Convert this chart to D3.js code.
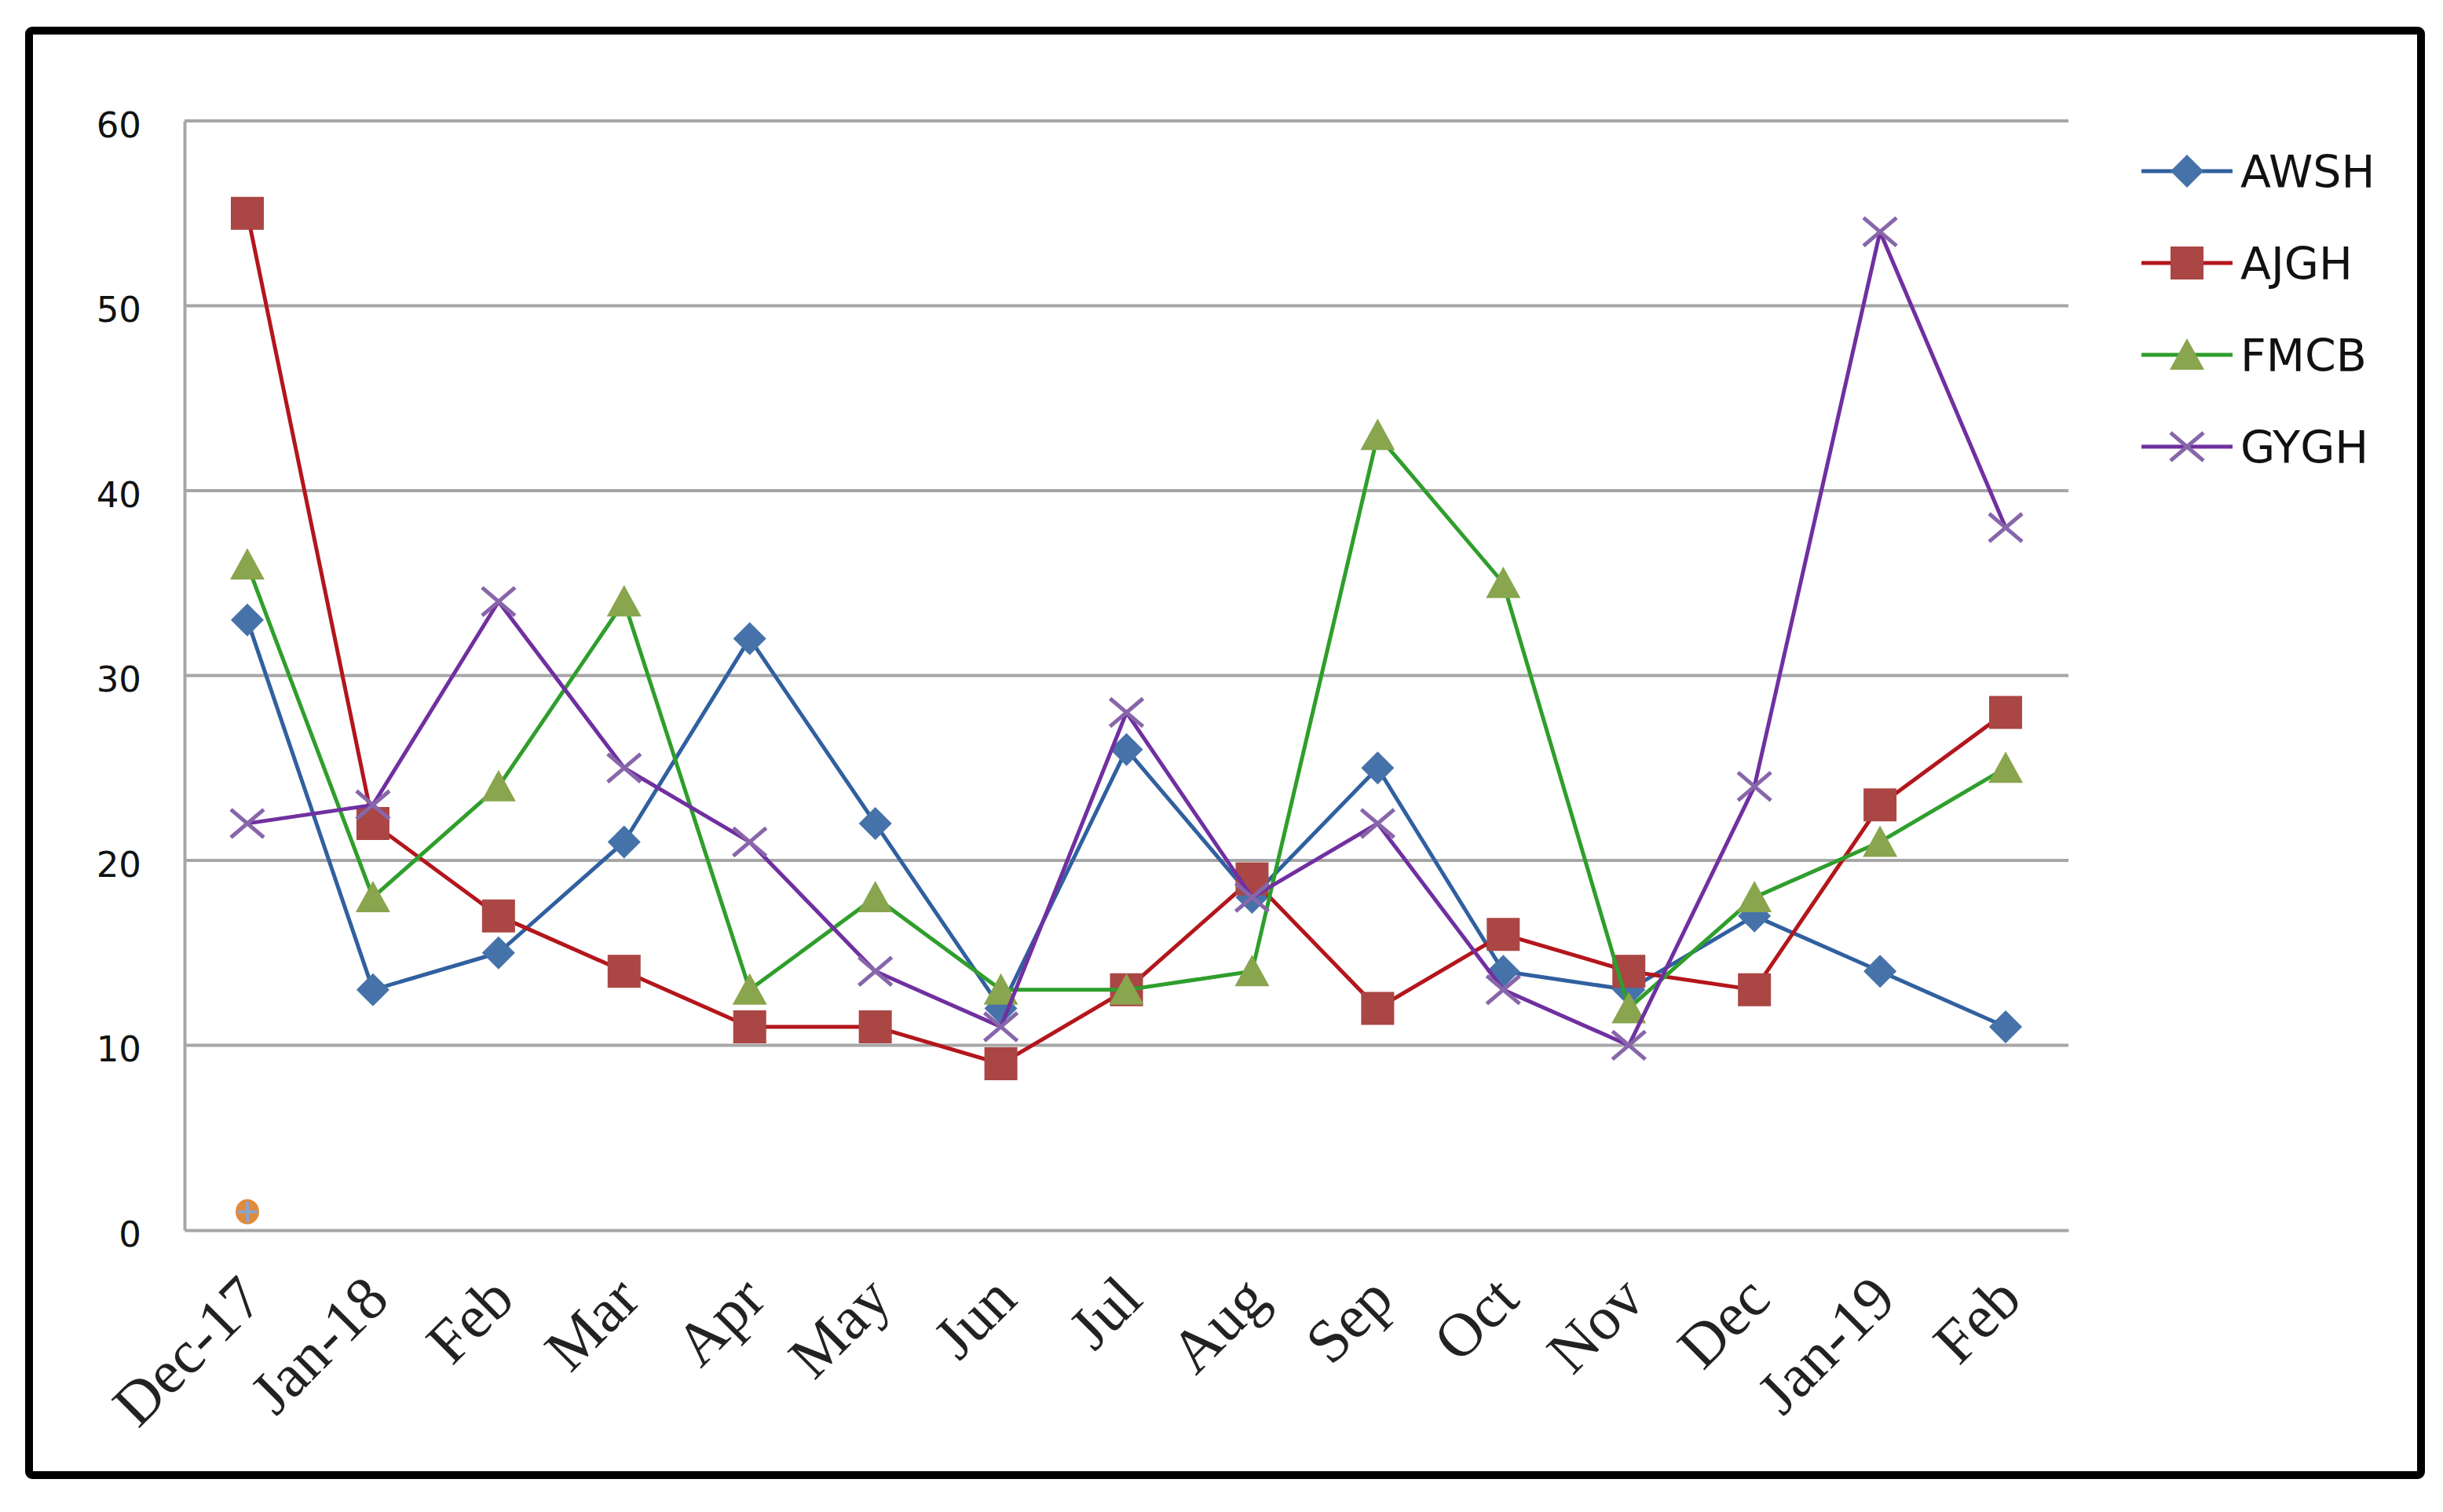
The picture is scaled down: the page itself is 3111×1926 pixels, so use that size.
<!DOCTYPE html>
<html>
<head>
<meta charset="utf-8">
<script src="https://cdn.jsdelivr.net/npm/d3@7"></script>
<style>
  html, body { margin: 0; padding: 0; background: #ffffff; }
  svg { display: block; }
</style>
</head>
<body>
<svg id="chart" width="3111" height="1926"></svg>
<script>
// ---------------- data ----------------
const categories = ["Dec-17", "Jan-18", "Feb", "Mar", "Apr", "May", "Jun", "Jul", "Aug", "Sep", "Oct", "Nov", "Dec", "Jan-19", "Feb"];
const seriesNames = ["AWSH", "AJGH", "FMCB", "GYGH"];
const awsh = [33, 13, 15, 21, 32, 22, 12, 26, 18, 25, 14, 13, 17, 14, 11];
const ajgh = [55, 22, 17, 14, 11, 11, 9, 13, 19, 12, 16, 14, 13, 23, 28];
const fmcb = [36, 18, 24, 34, 13, 18, 13, 13, 14, 43, 35, 12, 18, 21, 25];
const gygh = [22, 23, 34, 25, 21, 14, 11, 28, 18, 22, 13, 10, 24, 54, 38];
const strayPoint = [{ index: 0, value: 1 }];
const yTicks = [0, 10, 20, 30, 40, 50, 60];

// ---------------- styles ----------------
const styles = {
  AWSH: { line: "#30609f", fill: "#4672aa", marker: "diamond" },
  AJGH: { line: "#b3161c", fill: "#aa4643", marker: "square" },
  FMCB: { line: "#2f9e2c", fill: "#89a54e", marker: "triangle" },
  GYGH: { line: "#7030a0", fill: "#8866aa", marker: "cross" }
};
const seriesValues = { AWSH: awsh, AJGH: ajgh, FMCB: fmcb, GYGH: gygh };

const svg = d3.select("#chart");
svg.append("rect").attr("width", 3111).attr("height", 1926).attr("fill", "#ffffff");

const plot = { left: 235, right: 2634, top: 154, bottom: 1567 };

const x = d3.scaleBand().domain(d3.range(categories.length)).range([plot.left, plot.right]).padding(0);
const cx = i => x(i) + x.bandwidth() / 2;
const y = d3.scaleLinear().domain([0, 60]).range([plot.bottom, plot.top]);

// outer frame
svg.append("rect")
  .attr("x", 37).attr("y", 39)
  .attr("width", 3083 - 37).attr("height", 1879 - 39)
  .attr("rx", 4)
  .attr("fill", "none").attr("stroke", "#000").attr("stroke-width", 10);

// gridlines
svg.append("g")
  .selectAll("line").data(yTicks.filter(t => t > 0)).join("line")
  .attr("x1", plot.left).attr("x2", plot.right)
  .attr("y1", d => y(d)).attr("y2", d => y(d))
  .attr("stroke", "#a6a6a6").attr("stroke-width", 4);

// y axis
const yAxis = d3.axisLeft(y).tickValues(yTicks).tickSize(0).tickPadding(55).tickFormat(d3.format("d"));
const gy = svg.append("g").attr("transform", `translate(${plot.left},0)`).call(yAxis);
gy.select(".domain").attr("stroke", "#a6a6a6").attr("stroke-width", 4);
gy.selectAll("text")
  .attr("font-family", "'DejaVu Sans', sans-serif")
  .attr("font-size", 45).attr("fill", "#111")
  .attr("dy", "0.45em");

// x axis
const xAxis = d3.axisBottom(x).tickSize(0).tickFormat(i => categories[i]);
const gx = svg.append("g").attr("transform", `translate(0,${plot.bottom})`).call(xAxis);
gx.select(".domain").attr("stroke", "#a6a6a6").attr("stroke-width", 4);
gx.selectAll("text")
  .attr("font-family", "'Liberation Serif', serif")
  .attr("font-size", 78).attr("font-weight", 400).attr("fill", "#222")
  .attr("text-anchor", "end")
  .attr("y", 0).attr("dy", "0.35em")
  .attr("transform", "translate(4,72) rotate(-45)");

// marker path generator (relative to 0,0)
function markerPath(type) {
  const s = 21;
  if (type === "diamond") return `M0,${-s} L${s},0 L0,${s} L${-s},0 Z`;
  if (type === "square") return `M${-s},${-s} H${s} V${s} H${-s} Z`;
  if (type === "triangle") return `M0,${-s} L${s + 1},${s - 2} L${-s - 1},${s - 2} Z`;
  return `M${-s},${-s * 0.85} L${s},${s * 0.85} M${s},${-s * 0.85} L${-s},${s * 0.85}`;
}
function drawMarker(g, type, st) {
  const p = g.append("path").attr("d", markerPath(type));
  if (type === "cross") p.attr("fill", "none").attr("stroke", st.fill).attr("stroke-width", 5);
  else p.attr("fill", st.fill).attr("stroke", "none");
}

const lineGen = d3.line().x((d, i) => cx(i)).y(d => y(d));

seriesNames.forEach(name => {
  const st = styles[name];
  const vals = seriesValues[name];
  const g = svg.append("g");
  g.append("path").datum(vals).attr("d", lineGen)
    .attr("fill", "none").attr("stroke", st.line).attr("stroke-width", 5)
    .attr("stroke-linejoin", "round");
  vals.forEach((v, i) => {
    const mg = g.append("g").attr("transform", `translate(${cx(i)},${y(v)})`);
    drawMarker(mg, st.marker, st);
  });
});

// stray point near origin
strayPoint.forEach(p => {
  const g = svg.append("g").attr("transform", `translate(${cx(p.index)},${y(p.value)})`);
  g.append("ellipse").attr("rx", 15).attr("ry", 16).attr("fill", "#e08a3c");
  g.append("path").attr("d", "M-13,0 H13 M0,-13 V13").attr("stroke", "#8fa3c4").attr("stroke-width", 4);
});

// legend
const legendY = [218, 335, 452, 569];
seriesNames.forEach((name, k) => {
  const st = styles[name];
  const g = svg.append("g").attr("transform", `translate(0,${legendY[k]})`);
  g.append("line").attr("x1", 2727).attr("x2", 2843).attr("y1", 0).attr("y2", 0)
    .attr("stroke", st.line).attr("stroke-width", 5);
  const mg = g.append("g").attr("transform", "translate(2785,0)");
  drawMarker(mg, st.marker, st);
  g.append("text").attr("x", 2853).attr("y", 0).attr("dy", "0.36em")
    .attr("font-family", "'DejaVu Sans', sans-serif").attr("font-size", 57)
    .attr("fill", "#111").text(name);
});
</script>
</body>
</html>
